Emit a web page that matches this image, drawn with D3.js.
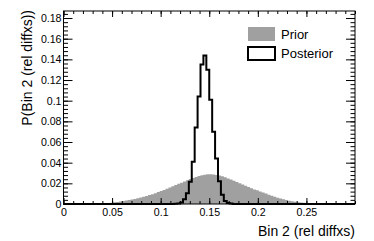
<!DOCTYPE html>
<html>
<head>
<meta charset="utf-8">
<script src="https://cdn.jsdelivr.net/npm/d3@7/dist/d3.min.js"></script>
<style>
  html, body { margin: 0; padding: 0; background: #fff; }
  svg { display: block; }
  text { font-family: "Liberation Sans", Arial, Helvetica, sans-serif; fill: #000; }
</style>
</head>
<body>
<svg id="chart" width="374" height="241"></svg>
<script>
// ---- data ----
const binLow = 0, binHigh = 0.3, nBins = 100;
const priorValues = [
  0,0,0,0,0,0,0,0,0,0,
  0.0001,0.0002,0.0003,0.0004,0.0006,0.0009,0.0012,0.0016,0.0020,0.0025,
  0.0029,0.0033,0.0038,0.0044,0.0049,0.0056,0.0062,0.0071,0.0078,0.0086,
  0.0094,0.0104,0.0115,0.0126,0.0136,0.0148,0.0159,0.0171,0.0183,0.0195,
  0.0206,0.0218,0.0229,0.0241,0.0252,0.0262,0.0271,0.0279,0.0284,0.0288,
  0.0287,0.0285,0.0280,0.0276,0.0268,0.0258,0.0248,0.0237,0.0225,0.0213,
  0.0201,0.0189,0.0177,0.0164,0.0152,0.0141,0.0132,0.0122,0.0112,0.0101,
  0.0090,0.0080,0.0070,0.0061,0.0053,0.0045,0.0038,0.0032,0.0027,0.0022,
  0.0018,0.0014,0.0011,0.0009,0.0007,0.0005,0.0004,0.0003,0.0002,0.0001,
  0.0001,0,0,0,0,0,0,0,0,0
];
const posteriorValues = [
  0,0,0,0,0,0,0,0,0,0,
  0,0,0,0,0,0,0,0,0,0,
  0,0,0,0,0,0,0,0,0,0,
  0,0,0,0,0,0,0,0,0.0002,0.0006,
  0.0015,0.0045,0.0105,0.0215,0.0410,0.0740,0.1040,0.1350,0.1437,0.1300,
  0.1010,0.0700,0.0440,0.0220,0.0090,0.0030,0.0010,0.0004,0.0001,0,
  0,0,0,0,0,0,0,0,0,0,
  0,0,0,0,0,0,0,0,0,0,
  0,0,0,0,0,0,0,0,0,0,
  0,0,0,0,0,0,0,0,0,0
];
const xMajorTicks = [0, 0.05, 0.1, 0.15, 0.2, 0.25];
const xTickLabels = ["0", "0.05", "0.1", "0.15", "0.2", "0.25"];
const yMajorTicks = [0, 0.02, 0.04, 0.06, 0.08, 0.1, 0.12, 0.14, 0.16, 0.18];
const yTickLabels = ["0", "0.02", "0.04", "0.06", "0.08", "0.1", "0.12", "0.14", "0.16", "0.18"];
const yMax = 0.1868;
const xTitle = "Bin 2 (rel diffxs)";
const yTitle = "P(Bin 2 (rel diffxs))";
const legendLabels = ["Prior", "Posterior"];

// ---- layout ----
const L = 63.5, R = 355, T = 11, B = 204;
const svg = d3.select("#chart");
const x = d3.scaleLinear().domain([binLow, binHigh]).range([L, R]);
const y = d3.scaleLinear().domain([0, yMax]).range([B, T]);

const binW = (binHigh - binLow) / nBins;
function stepPoints(vals) {
  const pts = vals.map((v, i) => ({ x0: binLow + i * binW, v }));
  pts.push({ x0: binHigh, v: vals[vals.length - 1] });
  return pts;
}

svg.append("rect").attr("x", L).attr("y", T).attr("width", R - L).attr("height", B - T).attr("fill", "#fff");

const plot = svg.append("g");
// prior filled
plot.append("path")
  .datum(stepPoints(priorValues))
  .attr("fill", "#a0a0a0")
  .attr("stroke", "none")
  .attr("d", d3.area().x(d => x(d.x0)).y0(y(0)).y1(d => y(d.v)).curve(d3.curveStepAfter));
// posterior outline
plot.append("path")
  .datum(stepPoints(posteriorValues))
  .attr("fill", "none")
  .attr("stroke", "#000")
  .attr("stroke-width", 2)
  .attr("stroke-linejoin", "miter")
  .attr("d", d3.line().x(d => x(d.x0)).y(d => y(d.v)).curve(d3.curveStepAfter));

// ---- axes ----
const xMinor = d3.range(0, 31).map(i => i * 0.01).filter(v => v <= binHigh + 1e-9);
const yMinor = d3.range(0, 47).map(i => i * 0.004).filter(v => v <= yMax);

function styleAxis(g) {
  g.select(".domain").remove();
  g.selectAll(".tick line").attr("stroke", "#000").attr("stroke-width", 1);
  g.selectAll("text").style("font-size", "10.6px").attr("fill", "#000");
}

// bottom
svg.append("g").attr("transform", `translate(0,${B})`)
  .call(d3.axisBottom(x).tickValues(xMinor).tickSize(-3).tickFormat(""))
  .call(styleAxis);
svg.append("g").attr("transform", `translate(0,${B})`)
  .call(d3.axisBottom(x).tickValues(xMajorTicks).tickSize(-6).tickPadding(4)
    .tickFormat((d, i) => xTickLabels[i]))
  .call(styleAxis);
// top
svg.append("g").attr("transform", `translate(0,${T})`)
  .call(d3.axisTop(x).tickValues(xMinor).tickSize(-3).tickFormat(""))
  .call(styleAxis);
svg.append("g").attr("transform", `translate(0,${T})`)
  .call(d3.axisTop(x).tickValues(xMajorTicks).tickSize(-6).tickFormat(""))
  .call(styleAxis);
// left
svg.append("g").attr("transform", `translate(${L},0)`)
  .call(d3.axisLeft(y).tickValues(yMinor).tickSize(-4.5).tickFormat(""))
  .call(styleAxis);
svg.append("g").attr("transform", `translate(${L},0)`)
  .call(d3.axisLeft(y).tickValues(yMajorTicks).tickSize(-9).tickPadding(2)
    .tickFormat((d, i) => yTickLabels[i]))
  .call(styleAxis);
// right
svg.append("g").attr("transform", `translate(${R},0)`)
  .call(d3.axisRight(y).tickValues(yMinor).tickSize(-4.5).tickFormat(""))
  .call(styleAxis);
svg.append("g").attr("transform", `translate(${R},0)`)
  .call(d3.axisRight(y).tickValues(yMajorTicks).tickSize(-9).tickFormat(""))
  .call(styleAxis);

// frame
svg.append("rect").attr("x", L).attr("y", T).attr("width", R - L).attr("height", B - T)
  .attr("fill", "none").attr("stroke", "#000").attr("stroke-width", 1);

// titles
svg.append("text").attr("x", R).attr("y", 236).attr("text-anchor", "end")
  .style("font-size", "14px").text(xTitle);
svg.append("text").attr("transform", "translate(31.5,10) rotate(-90)")
  .attr("text-anchor", "end").style("font-size", "14px").text(yTitle);

// legend
const leg = svg.append("g");
leg.append("rect").attr("x", 248).attr("y", 27).attr("width", 27).attr("height", 14)
  .attr("fill", "#a0a0a0");
leg.append("rect").attr("x", 248).attr("y", 47).attr("width", 27).attr("height", 13)
  .attr("fill", "#fff").attr("stroke", "#000").attr("stroke-width", 2);
leg.append("text").attr("x", 281).attr("y", 38.5).style("font-size", "13px").text(legendLabels[0]);
leg.append("text").attr("x", 281).attr("y", 58).style("font-size", "13px").text(legendLabels[1]);
</script>
</body>
</html>
